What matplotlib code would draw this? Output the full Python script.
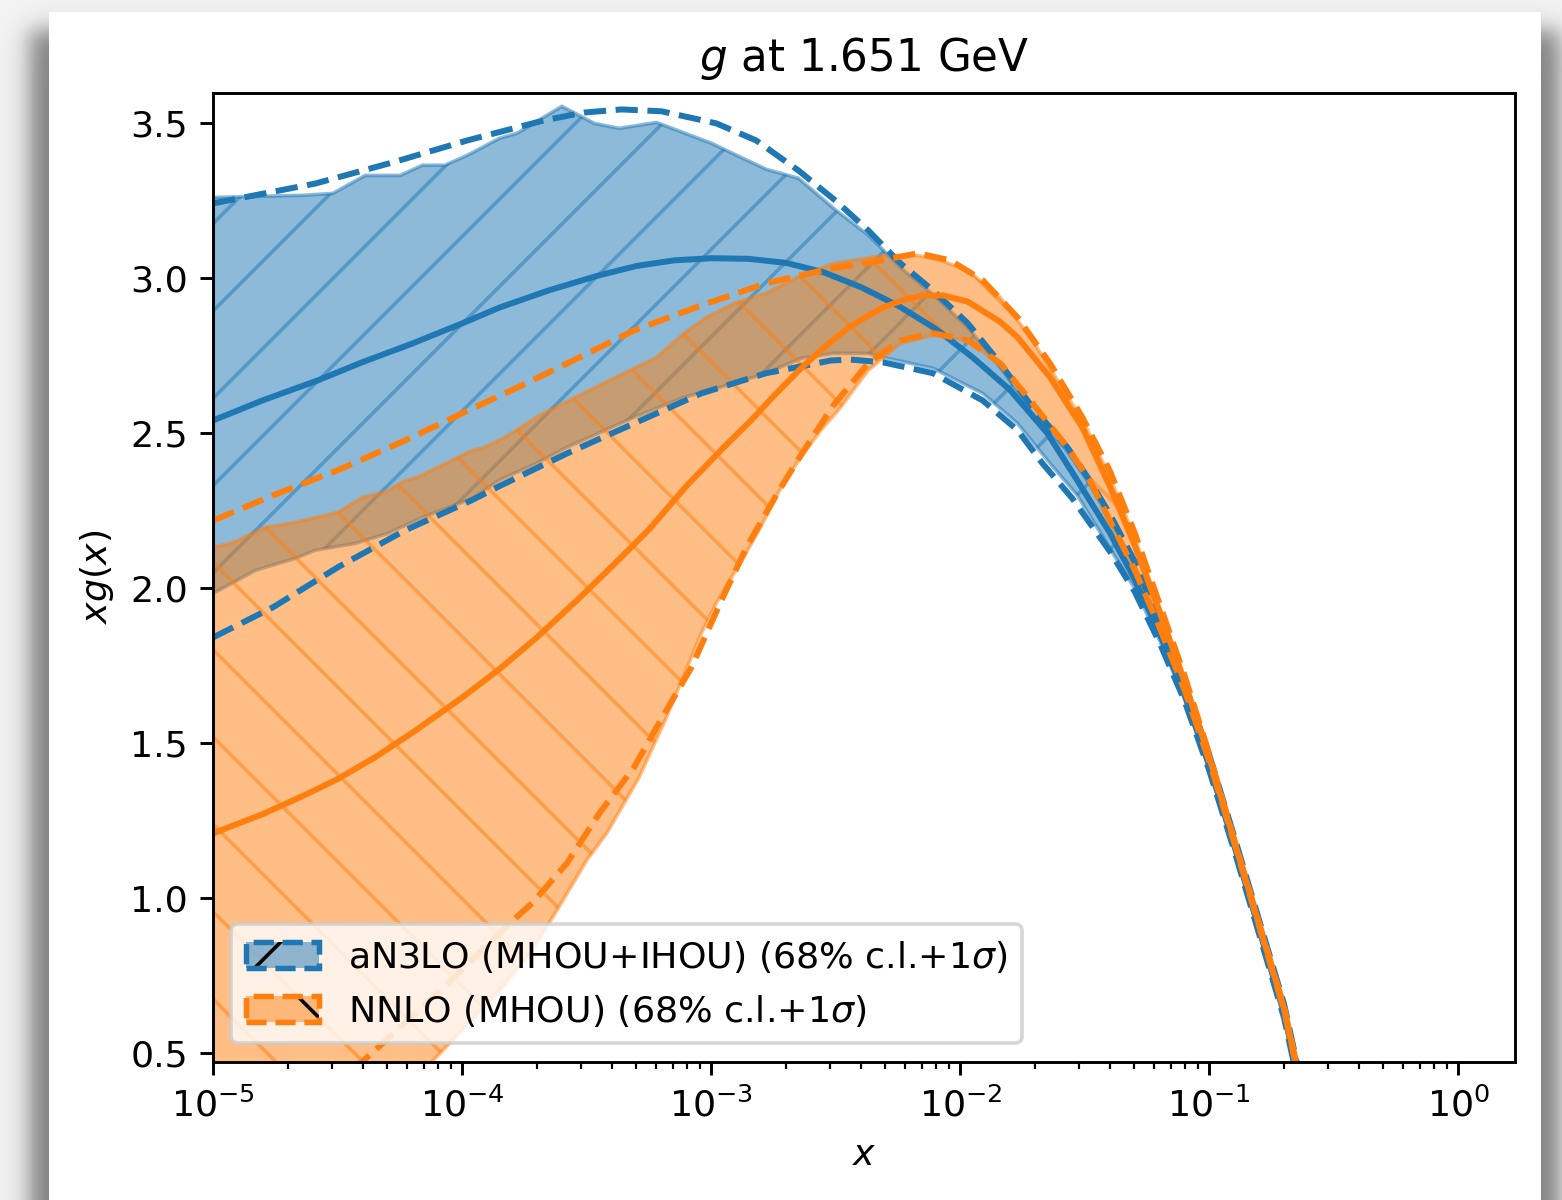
import numpy as np
import matplotlib
matplotlib.use('Agg')
import matplotlib.pyplot as plt
from matplotlib.patches import Patch, Rectangle
from matplotlib.legend_handler import HandlerTuple

DPI = 262
W, H = 1562, 1200
LW = 1.65

# values, x given as log10(x)
# aN3LO central value
n3lo_cv_lx = [-5.0, -4.8, -4.58, -4.4, -4.2, -4.0, -3.85, -3.65, -3.45, -3.3, -3.15, -3.0, -2.85, -2.7,
              -2.55, -2.4, -2.25, -2.1, -1.95, -1.8, -1.65, -1.53, -1.4, -1.3, -1.2, -1.1, -1.0,
              -0.9, -0.8, -0.7, -0.6]
n3lo_cv = [2.542, 2.607, 2.671, 2.73, 2.79, 2.855, 2.906, 2.962, 3.01, 3.04, 3.058, 3.065, 3.063, 3.05,
           3.02, 2.972, 2.912, 2.838, 2.745, 2.64, 2.50, 2.348, 2.18, 2.03, 1.855, 1.658, 1.427,
           1.17, 0.90, 0.63, 0.26]

# aN3LO central -/+ 1 sigma
n3lo_lo1s_lx = [-5.0, -4.76, -4.5, -4.23, -3.96, -3.85, -3.58, -3.31, -3.04, -2.78, -2.52, -2.44, -2.31,
                -2.11, -1.91, -1.77, -1.67, -1.55, -1.4, -1.3, -1.2, -1.1, -1.0, -0.9, -0.8, -0.7, -0.6]
n3lo_lo1s = [1.842, 1.939, 2.068, 2.187, 2.285, 2.33, 2.435, 2.532, 2.629, 2.694, 2.735, 2.738, 2.729,
             2.694, 2.606, 2.51, 2.403, 2.29, 2.12, 1.99, 1.825, 1.638, 1.412, 1.155, 0.885, 0.615, 0.245]

n3lo_hi1s_lx = [-5.0, -4.59, -4.28, -3.98, -3.67, -3.51, -3.36, -3.2, -2.98, -2.82, -2.65, -2.5, -2.37,
                -2.24, -2.11, -1.97, -1.84, -1.71, -1.57, -1.48, -1.4, -1.3, -1.2, -1.1, -1.0, -0.9,
                -0.8, -0.7, -0.6]
n3lo_hi1s = [3.242, 3.306, 3.374, 3.445, 3.51, 3.535, 3.545, 3.539, 3.50, 3.445, 3.348, 3.25, 3.155,
             3.048, 2.961, 2.855, 2.726, 2.584, 2.455, 2.348, 2.24, 2.087, 1.895, 1.693, 1.462, 1.20,
             0.93, 0.66, 0.29]

# aN3LO 68% c.l. band edges
n3lo_clhi_lx = [-5.0, -4.64, -4.52, -4.39, -4.25, -4.16, -4.07, -3.98, -3.85, -3.78, -3.6, -3.47, -3.37,
                -3.22, -3.0, -2.78, -2.65, -2.5, -2.37, -2.24, -2.11, -1.97, -1.84, -1.71, -1.57, -1.48,
                -1.4, -1.3, -1.2, -1.1, -1.0, -0.9, -0.8, -0.7, -0.6]
n3lo_clhi = [3.261, 3.268, 3.274, 3.332, 3.332, 3.365, 3.365, 3.397, 3.452, 3.468, 3.555, 3.50, 3.484,
             3.503, 3.436, 3.352, 3.323, 3.22, 3.14, 3.035, 2.948, 2.842, 2.713, 2.571, 2.442, 2.335,
             2.225, 2.075, 1.885, 1.683, 1.452, 1.19, 0.92, 0.65, 0.28]

n3lo_cllo_lx = [-5.0, -4.83, -4.67, -4.59, -4.43, -4.3, -4.16, -3.96, -3.85, -3.71, -3.58, -3.31, -3.11,
                -2.91, -2.78, -2.64, -2.51, -2.37, -2.31, -2.11, -1.91, -1.77, -1.64, -1.53, -1.4, -1.3,
                -1.2, -1.1, -1.0, -0.9, -0.8, -0.7, -0.6]
n3lo_cllo = [1.984, 2.058, 2.097, 2.123, 2.145, 2.177, 2.229, 2.29, 2.35, 2.40, 2.455, 2.552, 2.616,
             2.661, 2.694, 2.742, 2.758, 2.758, 2.745, 2.71, 2.629, 2.532, 2.403, 2.30, 2.13, 2.0,
             1.833, 1.645, 1.418, 1.16, 0.89, 0.62, 0.25]

# NNLO central value
nnlo_cv_lx = [-5.0, -4.8, -4.63, -4.5, -4.35, -4.19, -4.0, -3.85, -3.7, -3.54, -3.4, -3.25, -3.1, -2.95,
              -2.84, -2.75, -2.64, -2.55, -2.45, -2.38, -2.31, -2.23, -2.15, -2.07, -1.97, -1.84,
              -1.77, -1.64, -1.51, -1.4, -1.3, -1.2, -1.1, -1.0, -0.9, -0.8, -0.7, -0.6]
nnlo_cv = [1.21, 1.272, 1.334, 1.385, 1.455, 1.54, 1.648, 1.74, 1.842, 1.961, 2.07, 2.19, 2.33, 2.455,
           2.542, 2.62, 2.71, 2.775, 2.84, 2.875, 2.906, 2.93, 2.945, 2.945, 2.925, 2.86,
           2.81, 2.681, 2.519, 2.33, 2.14, 1.925, 1.70, 1.455, 1.185, 0.915, 0.645, 0.275]

# NNLO central -/+ 1 sigma
nnlo_hi1s_lx = [-5.0, -4.76, -4.5, -4.23, -3.96, -3.76, -3.58, -3.31, -3.04, -2.78, -2.52, -2.37, -2.17,
                -2.04, -1.91, -1.77, -1.64, -1.51, -1.4, -1.3, -1.2, -1.1, -1.0, -0.9, -0.8, -0.7, -0.6]
nnlo_hi1s = [2.219, 2.30, 2.381, 2.477, 2.58, 2.655, 2.725, 2.832, 2.913, 2.984, 3.032, 3.05, 3.081,
             3.058, 2.994, 2.874, 2.726, 2.552, 2.38, 2.18, 1.95, 1.72, 1.465, 1.19, 0.92, 0.65, 0.28]

nnlo_lo1s_lx = [-5.0, -4.7, -4.4, -4.09, -3.81, -3.72, -3.58, -3.45, -3.31, -3.21, -3.08, -2.96, -2.86,
                -2.74, -2.64, -2.51, -2.37, -2.24, -2.11, -1.97, -1.84, -1.71, -1.57, -1.48, -1.4, -1.3,
                -1.2, -1.1, -1.0, -0.9, -0.8, -0.7, -0.6]
nnlo_lo1s = [0.20, 0.31, 0.474, 0.70, 0.919, 0.984, 1.113, 1.274, 1.423, 1.565, 1.745, 1.96, 2.13,
             2.30, 2.43, 2.59, 2.726, 2.80, 2.823, 2.80, 2.726, 2.597, 2.455, 2.348, 2.22, 2.06,
             1.875, 1.673, 1.442, 1.18, 0.91, 0.64, 0.27]

# NNLO 68% c.l. band edges
nnlo_clhi_lx = [-5.0, -4.92, -4.79, -4.67, -4.5, -4.4, -4.31, -4.23, -4.19, -4.1, -3.96, -3.91, -3.83,
                -3.69, -3.45, -3.22, -3.11, -3.02, -2.91, -2.78, -2.64, -2.51, -2.31, -2.17, -2.08,
                -1.97, -1.84, -1.71, -1.57, -1.5, -1.4, -1.3, -1.2, -1.1, -1.0, -0.9, -0.8, -0.7, -0.6]
nnlo_clhi = [2.132, 2.148, 2.197, 2.213, 2.245, 2.294, 2.31, 2.348, 2.355, 2.39, 2.445, 2.455, 2.487,
             2.558, 2.655, 2.745, 2.823, 2.874, 2.919, 2.952, 3.01, 3.048, 3.074, 3.074, 3.058,
             3.026, 2.939, 2.80, 2.62, 2.53, 2.36, 2.165, 1.94, 1.71, 1.458, 1.185, 0.915, 0.645, 0.275]

nnlo_cllo_lx = [-5.0, -4.5, -4.12, -3.85, -3.72, -3.62, -3.5, -3.42, -3.29, -3.18, -3.04, -2.98, -2.87,
                -2.8, -2.71, -2.64, -2.56, -2.48, -2.43, -2.37, -2.24, -2.11, -1.97, -1.84, -1.71,
                -1.57, -1.48, -1.4, -1.3, -1.2, -1.1, -1.0, -0.9, -0.8, -0.7, -0.6]
nnlo_cllo = [-0.6, 0.1, 0.474, 0.703, 0.832, 0.961, 1.123, 1.21, 1.39, 1.584, 1.855, 1.952, 2.10,
             2.20, 2.34, 2.423, 2.51, 2.584, 2.639, 2.703, 2.79, 2.816, 2.80, 2.72, 2.59,
             2.45, 2.34, 2.215, 2.055, 1.87, 1.668, 1.44, 1.178, 0.908, 0.638, 0.268]

labels = ['aN3LO (MHOU+IHOU) (68% c.l.+1$\\sigma$)', 'NNLO (MHOU) (68% c.l.+1$\\sigma$)']
C0 = '#1f77b4'
C1 = '#ff7f0e'


def xs(lx):
    return 10.0 ** np.asarray(lx)


def band(ax, hi_lx, hi, lo_lx, lo, color, hatch):
    # closed polygon: upper edge left->right, lower edge right->left
    px = np.concatenate([xs(hi_lx), xs(lo_lx)[::-1]])
    py = np.concatenate([np.asarray(hi), np.asarray(lo)[::-1]])
    ax.fill(px, py, color=color, alpha=0.5, hatch=hatch)


fig = plt.figure(figsize=(W / DPI, H / DPI), dpi=DPI)

# soft drop shadow around the white page
bg = fig.add_axes([0, 0, 1, 1], zorder=-10)
gx = np.arange(W)[None, :] + 0.5
gy = np.arange(H)[:, None] + 0.5
s = 14.0
fx = 0.25 * (1 + np.tanh((gx - 30) / s)) * (1 - np.tanh((gx - 1560) / s))
fy = 0.5 * (1 + np.tanh((gy - 30) / s))
shade = 0.95 - 0.45 * fx * fy
bg.imshow(shade, cmap='gray', vmin=0, vmax=1, extent=(0, W, H, 0), aspect='auto',
          interpolation='bilinear')
bg.add_patch(Rectangle((49, 12), 1541 - 49, H - 12 + 5, facecolor='white', edgecolor='none'))
bg.set_xlim(0, W)
bg.set_ylim(H, 0)
bg.axis('off')

ax = fig.add_axes([213.3 / W, 1 - 1061.5 / H, (1514.5 - 213.3) / W, (1061.5 - 93) / H])

band(ax, n3lo_clhi_lx, n3lo_clhi, n3lo_cllo_lx, n3lo_cllo, C0, '/')
band(ax, nnlo_clhi_lx, nnlo_clhi, nnlo_cllo_lx, nnlo_cllo, C1, '\\')

ax.plot(xs(n3lo_cv_lx), n3lo_cv, color=C0, lw=LW)
ax.plot(xs(n3lo_lo1s_lx), n3lo_lo1s, color=C0, ls='--', lw=LW)
ax.plot(xs(n3lo_hi1s_lx), n3lo_hi1s, color=C0, ls='--', lw=LW)
ax.plot(xs(nnlo_cv_lx), nnlo_cv, color=C1, lw=LW)
ax.plot(xs(nnlo_lo1s_lx), nnlo_lo1s, color=C1, ls='--', lw=LW)
ax.plot(xs(nnlo_hi1s_lx), nnlo_hi1s, color=C1, ls='--', lw=LW)

ax.set_xscale('log')
ax.set_xlim(1e-5, 10 ** 0.2257)
ax.set_ylim(0.4735, 3.598)
ax.set_title('$g$ at 1.651 GeV')
ax.set_xlabel('$x$')
ax.set_ylabel('$xg(x)$')

# legend entry: hatched fill with a dashed outline on top
handles = []
for c, h in [(C0, '/'), (C1, '\\')]:
    handles.append((Patch(facecolor=c, alpha=0.5, hatch=h),
                    Patch(fill=False, edgecolor=c, linestyle='--', linewidth=1.5)))
ax.legend(handles, labels, loc='lower left', handler_map={tuple: HandlerTuple(ndivide=1)})

fig.savefig('out.png', dpi=DPI)
